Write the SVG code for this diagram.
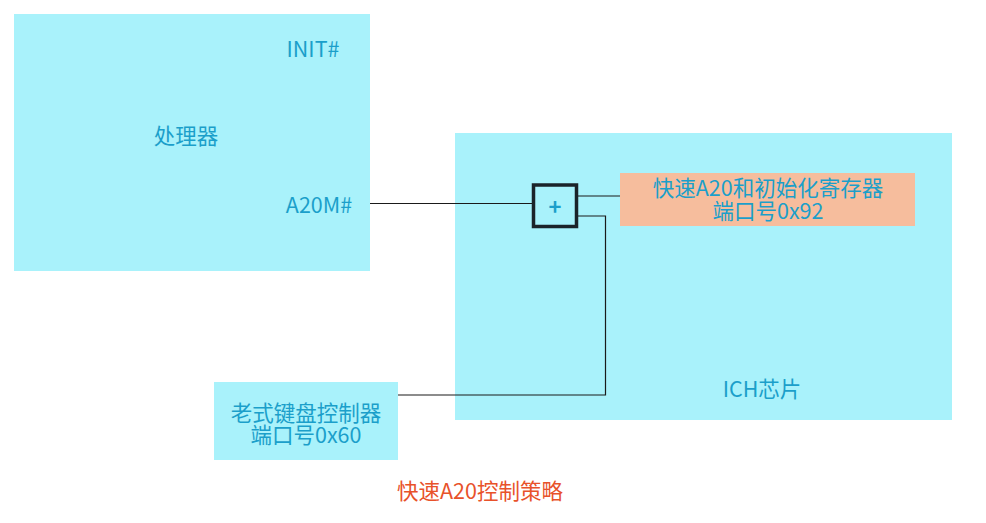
<svg xmlns="http://www.w3.org/2000/svg" width="986" height="523" viewBox="0 0 986 523">
<style>
.box{fill:#a9f2fb;}
.port{fill:#f6bd9d;}
.t{font-family:"Noto Sans CJK SC","Noto Sans",sans-serif;font-size:21.5px;fill:#1b9fca;dominant-baseline:central;}
.title{fill:#e8522a;}
.wire{fill:none;stroke:#1a1a1a;stroke-width:1.2;}
</style>
<rect width="986" height="523" fill="#ffffff"/>
<g id="processor">
<rect class="box" x="14" y="14" width="356" height="257"/>
<text class="t" x="313" y="47.5" text-anchor="middle">INIT#</text>
<text class="t" x="186" y="134.5" text-anchor="middle">处理器</text>
<text class="t" x="319" y="203.5" text-anchor="middle">A20M#</text>
</g>
<g id="ich">
<rect class="box" x="455" y="133" width="497" height="287"/>
<text class="t" x="762" y="387.5" text-anchor="middle">ICH芯片</text>
</g>
<g id="port92">
<rect class="port" x="620" y="173" width="295" height="53"/>
<text class="t" x="768" y="186.5" text-anchor="middle">快速A20和初始化寄存器</text>
<text class="t" x="768" y="209.5" text-anchor="middle">端口号0x92</text>
</g>
<g id="keyboard">
<rect class="box" x="214" y="382" width="184" height="78"/>
<text class="t" x="306" y="411.5" text-anchor="middle">老式键盘控制器</text>
<text class="t" x="306" y="433.5" text-anchor="middle">端口号0x60</text>
</g>
<g id="or-gate">
<rect x="533.5" y="185" width="43" height="41.5" fill="#a9f2fb" stroke="#1a2329" stroke-width="3.5"/>
<text class="t" x="555" y="205" text-anchor="middle" style="font-size:22px;font-weight:bold">+</text>
</g>
<g id="connectors">
<path class="wire" d="M370 203.5 H532"/>
<path class="wire" d="M578 196 H620"/>
<path class="wire" d="M578 216 H605.5 V395 H398"/>
</g>
<g id="caption">
<text class="t title" x="480" y="489.5" text-anchor="middle">快速A20控制策略</text>
</g>
</svg>
